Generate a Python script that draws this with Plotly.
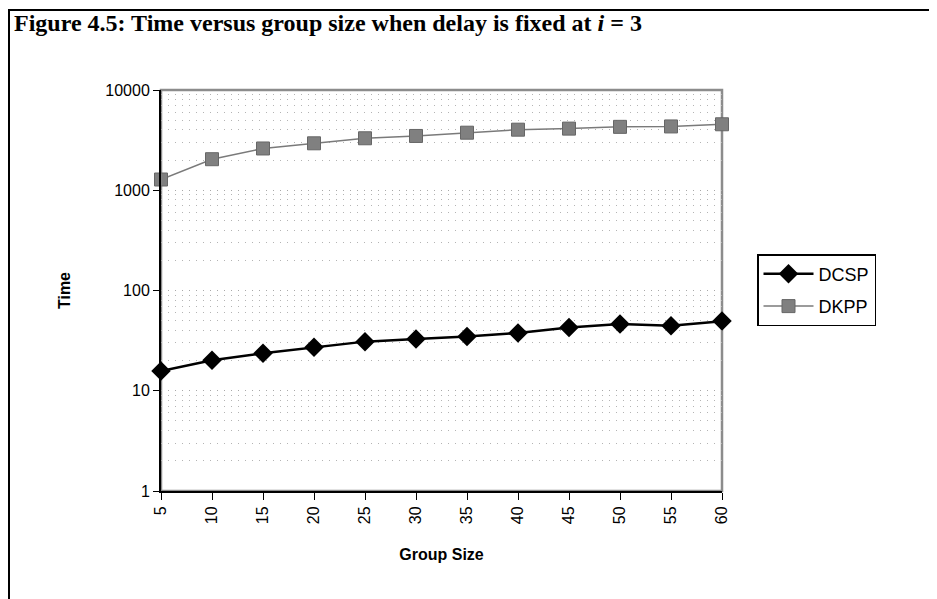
import plotly.graph_objects as go

group_size = [5, 10, 15, 20, 25, 30, 35, 40, 45, 50, 55, 60]
dcsp = [15.7, 20.1, 23.7, 27.2, 30.9, 32.9, 34.7, 37.7, 42.8, 46.3, 44.5, 49.5]
dkpp = [1280, 2040, 2610, 2940, 3300, 3480, 3750, 4020, 4120, 4290, 4330, 4550]
y_ticks = [1, 10, 100, 1000, 10000]
y_ticktext = ["1", "10", "100", "1000", "10000"]

OFF = 8  # page body margin
W, H = 937 - OFF, 599 - OFF
# plot area in page pixels
L, R, T, B = 161 - OFF, 722 - OFF, 90 - OFF, 491 - OFF
pw, ph = R - L, B - T

def px(x):
    return (x - OFF - L) / pw

def py(y):
    return (B - (y - OFF)) / ph

fig = go.Figure()
fig.add_trace(go.Scatter(
    x=group_size, y=dcsp, name="DCSP", mode="lines+markers",
    line=dict(color="black", width=2.5),
    marker=dict(symbol="diamond", size=15, color="black"),
    cliponaxis=False, legendgroup="a",
))
fig.add_trace(go.Scatter(
    x=group_size, y=dkpp, name="DKPP", mode="lines+markers",
    line=dict(color="#7a7a7a", width=1.5),
    marker=dict(symbol="square", size=13, color="#808080",
                line=dict(color="#666666", width=1)),
    cliponaxis=False, legendgroup="b",
))

fig.update_layout(
    width=W, height=H,
    margin=dict(l=L, r=W - R, t=T, b=H - B),
    paper_bgcolor="white", plot_bgcolor="white",
    font=dict(family="Liberation Sans, Arial", size=15, color="black"),
    showlegend=True,
    legend=dict(
        x=px(757), y=py(254), xanchor="left", yanchor="top",
        bordercolor="black", borderwidth=1.5, bgcolor="white",
        font=dict(size=18), itemwidth=50, tracegroupgap=6,
    ),
    xaxis=dict(
        range=[5, 60], tickvals=group_size, ticktext=[str(v) for v in group_size],
        tickangle=-90, ticks="outside", ticklen=7, tickcolor="black",
        showline=True, linecolor="black", linewidth=2, showgrid=False,
        zeroline=False, tickfont=dict(size=16),
        title=dict(text="<b>Group Size</b>", font=dict(size=16), standoff=26),
    ),
    yaxis=dict(
        type="log", range=[0, 4], tickvals=y_ticks, ticktext=y_ticktext,
        ticks="outside", ticklen=6, tickcolor="black",
        showline=True, linecolor="black", linewidth=2,
        showgrid=True, gridcolor="#a8a8a8", griddash="1px,6px", gridwidth=1,
        zeroline=False, tickfont=dict(size=16),
        minor=dict(dtick="D1", showgrid=True, gridcolor="#b4b4b4",
                   griddash="1px,6px", gridwidth=1, ticks=""),
        title=dict(text="<b>Time</b>", font=dict(size=16), standoff=31),
    ),
    shapes=[
        dict(type="rect", xref="paper", yref="paper", x0=0, x1=1, y0=0, y1=1,
             line=dict(color="#8c8c8c", width=2.5), layer="below"),
        dict(type="rect", xref="paper", yref="paper",
             x0=px(9), x1=px(950), y0=py(620), y1=py(10),
             line=dict(color="black", width=2)),
    ],
    annotations=[
        dict(text="<b>Figure 4.5: Time versus group size when delay is fixed at <i>i</i> = 3</b>",
             xref="paper", yref="paper", x=px(12), y=py(23),
             xanchor="left", yanchor="middle", showarrow=False,
             font=dict(family="Liberation Serif, Times New Roman", size=24, color="black")),
    ],
)

fig.write_html("out.html")
